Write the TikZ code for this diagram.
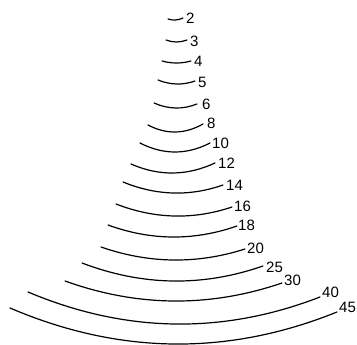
\documentclass[tikz,border=0pt]{standalone}
\usepackage{fontspec}
\setmainfont{Liberation Sans}
\usetikzlibrary{calc}
\begin{document}
\begin{tikzpicture}[x=1pt,y=-1pt,
  arcline/.style={line width=1.2pt,line cap=round},
  numlabel/.style={anchor=west,inner sep=0pt,font=\fontsize{15}{15}\selectfont}]
\useasboundingbox (0,0) rectangle (357,345);
\foreach \lx/\ly/\rx/\ry/\by/\t/\nx/\ny in {
  168/19/183/18/20/2/186/18,
  166/40/187/40/42/3/190/41,
  162/61/191/61/63/4/194/61,
  158/80/195/81/84/5/198/82,
  154/103/197/104/108/6/202/104,
  148/125/203/124/132/8/207/123,
  140/143/210/143/152/10/212/143,
  131/164/215/163/173/12/218/163,
  123/182/223/185/193/14/226/185,
  116/204/232/207/216/16/234/206,
  108/225/237/226/237/18/238/225,
  101/247/245/249/260/20/247/248,
  82/263/263/266/281/25/266/267,
  65/281/282/283/301/30/284/280,
  28/292/320/297/324/40/322/292,
  10/308/337/312/344/45/339/307}{
  \coordinate (l\t) at (\lx,\ly);
  \coordinate (r\t) at (\rx,\ry);
  \pgfmathsetmacro{\cx}{(\lx+\rx)/2}
  \pgfmathsetmacro{\cy}{2*\by-(\ly+\ry)/2}
  \coordinate (c\t) at (\cx,\cy);
  \draw[arcline] (l\t) .. controls ($(l\t)!2/3!(c\t)$) and ($(r\t)!2/3!(c\t)$) .. (r\t);
  \node[numlabel] (n\t) at (\nx,\ny) {\t};
}
\end{tikzpicture}
\end{document}
